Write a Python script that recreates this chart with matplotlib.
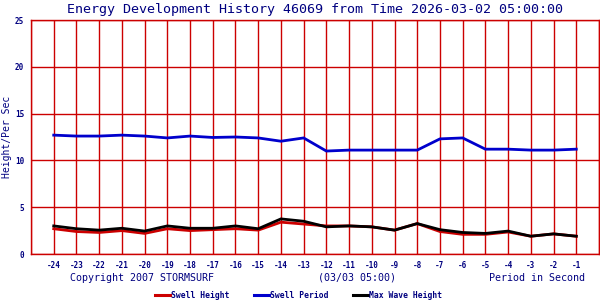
import matplotlib
matplotlib.use("Agg")
import matplotlib.pyplot as plt
import numpy as np

hours = [-24, -23, -22, -21, -20, -19, -18, -17, -16, -15, -14, -13,
         -12, -11, -10, -9, -8, -7, -6, -5, -4, -3, -2, -1]
swell_height = [2.7, 2.4, 2.3, 2.5, 2.2, 2.7, 2.5, 2.6, 2.7, 2.55, 3.4, 3.2,
                3.0, 3.0, 2.9, 2.55, 3.25, 2.4, 2.1, 2.1, 2.35, 1.9, 2.15, 1.9]
swell_period = [12.7, 12.6, 12.6, 12.7, 12.6, 12.4, 12.6, 12.45, 12.5, 12.4, 12.05, 12.4,
                11.0, 11.1, 11.1, 11.1, 11.1, 12.3, 12.4, 11.2, 11.2, 11.1, 11.1, 11.2]
max_wave = [3.0, 2.7, 2.55, 2.75, 2.45, 3.0, 2.75, 2.75, 3.0, 2.7, 3.75, 3.5,
            2.9, 3.0, 2.9, 2.55, 3.25, 2.6, 2.3, 2.2, 2.45, 1.9, 2.15, 1.9]
y_ticks = [0, 5, 10, 15, 20, 25]

title = "Energy Development History 46069 from Time 2026-03-02 05:00:00"
navy = "#000080"
grid_red = "#cc0000"
mono = "DejaVu Sans Mono"

fig = plt.figure(figsize=(6, 3), dpi=100)
ax = fig.add_axes([31/600, 46/300, 568/600, 234/300])

ax.plot(hours, swell_height, color="#cc0000", lw=2.0, solid_joinstyle="miter")
ax.plot(hours, swell_period, color="#0000cc", lw=2.0, solid_joinstyle="miter")
ax.plot(hours, max_wave, color="#000000", lw=2.0, solid_joinstyle="miter")

ax.set_xlim(-25, 0)
ax.set_ylim(0, 25)
ax.set_xticks(np.arange(-25, 1, 1), minor=True)
ax.set_xticks(hours)
ax.set_xticklabels([str(h) for h in hours], fontsize=5.5, family=mono,
                   color=navy, fontweight="bold")
ax.set_yticks(y_ticks)
ax.set_yticklabels([str(v) for v in y_ticks], fontsize=5.5, family=mono,
                   color=navy, fontweight="bold")
ax.tick_params(axis="both", which="both", length=0)
ax.tick_params(axis="x", pad=5)
ax.tick_params(axis="y", pad=5)
ax.grid(True, which="both", axis="x", color=grid_red, lw=1.0)
ax.grid(True, which="major", axis="y", color=grid_red, lw=1.0)
ax.set_axisbelow(True)
for s in ax.spines.values():
    s.set_color(grid_red)
    s.set_linewidth(1.0)

fig.text(315/600, 1 - 9/300, title, ha="center", va="center",
         fontsize=9.6, family=mono, color=navy)
fig.text(7/600, 1 - 137/300, "Height/Per Sec", rotation=90, ha="center",
         va="center", fontsize=7, family=mono, color=navy)
fig.text(70/600, 1 - 278/300, "Copyright 2007 STORMSURF", ha="left",
         va="center", fontsize=7.2, family=mono, color=navy)
fig.text(357/600, 1 - 278/300, "(03/03 05:00)", ha="center",
         va="center", fontsize=7.2, family=mono, color=navy)
fig.text(585/600, 1 - 278/300, "Period in Second", ha="right",
         va="center", fontsize=7.2, family=mono, color=navy)

legend_items = [("Swell Height", "#cc0000", 155), ("Swell Period", "#0000cc", 254),
                ("Max Wave Height", "#000000", 353)]
for label, col, x0 in legend_items:
    fig.add_artist(plt.Line2D([x0/600, (x0+15)/600], [1 - 295/300, 1 - 295/300],
                              color=col, lw=2.2, transform=fig.transFigure))
    fig.text((x0+16)/600, 1 - 295/300, label, ha="left", va="center",
             fontsize=5.8, family=mono, color=navy, fontweight="bold")

fig.savefig("out.png", dpi=100, facecolor="white")
